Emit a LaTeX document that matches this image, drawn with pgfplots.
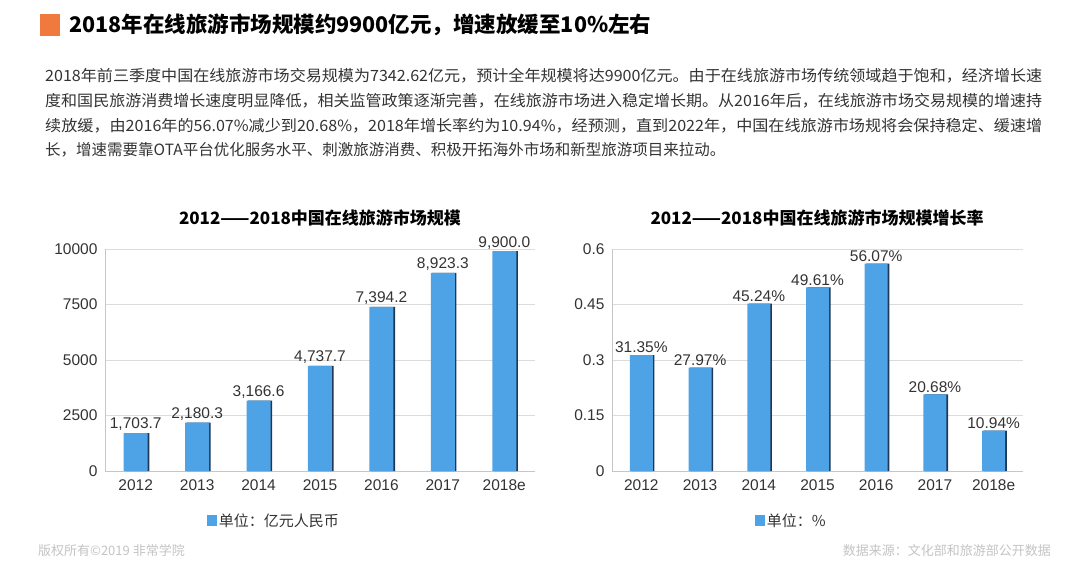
\documentclass[border=0pt]{standalone}
\usepackage{pgfplots}
\pgfplotsset{compat=1.18}
\usepackage{fontspec}
\setmainfont{Liberation Sans}
\newfontfamily\cjk{Noto Sans CJK SC}
\usepackage{graphicx}

\definecolor{barblue}{HTML}{4EA3E6}
\definecolor{barshade}{HTML}{1F3858}
\definecolor{headorange}{HTML}{F07A3E}
\definecolor{txt}{HTML}{333333}
\definecolor{foot}{HTML}{C4C4C4}

\newcommand{\para}{\cjk\fontsize{15.5}{18}\selectfont\color{txt}}

\pgfplotsset{
  twin/.style={
    scale only axis, height=222pt,
    xmin=-0.5, xmax=6.5, ymin=0,
    axis lines*=left, axis line style={-, draw=gray!45},
    ymajorgrids, grid style={draw=gray!28},
    xtick={0,...,6}, xticklabels={2012,2013,2014,2015,2016,2017,2018e},
    scaled y ticks=false,
    /pgf/number format/assume math mode=true,
    major tick length=0pt,
    tick label style={font=\fontsize{15.5}{18}\selectfont, text=txt},
    xticklabel style={yshift=-5pt},
    yticklabel style={xshift=-4pt},
    ybar, clip=false,
    every node near coord/.append style={font=\fontsize{15.5}{18}\selectfont, text=txt, inner sep=2pt},
    legend style={draw=none, fill=none, font=\cjk\fontsize{15}{18}\selectfont, text=txt,
      anchor=center, legend columns=1},
    legend image code/.code={\fill[barblue] (0pt,-5pt) rectangle (10pt,6pt);},
  },
}

\begin{document}
\begin{tikzpicture}[x=1pt,y=1pt]
\fill[white] (0,0) rectangle (1080,-572);

% heading
\fill[headorange] (40,-14) rectangle (60,-36);
\node[anchor=west, inner sep=0pt] at (69,-25)
  {\cjk\bfseries\fontsize{21.5}{26}\selectfont\color{black}2018年在线旅游市场规模约9900亿元，增速放缓至10\%左右};

% paragraph
\node[anchor=west, inner sep=0pt] at (45,-76) {\para\resizebox{997pt}{\height}{2018年前三季度中国在线旅游市场交易规模为7342.62亿元，预计全年规模将达9900亿元。由于在线旅游市场传统领域趋于饱和，经济增长速}};
\node[anchor=west, inner sep=0pt] at (45,-101) {\para\resizebox{997pt}{\height}{度和国民旅游消费增长速度明显降低，相关监管政策逐渐完善，在线旅游市场进入稳定增长期。从2016年后，在线旅游市场交易规模的增速持}};
\node[anchor=west, inner sep=0pt] at (45,-126) {\para\resizebox{997pt}{\height}{续放缓，由2016年的56.07\%减少到20.68\%，2018年增长率约为10.94\%，经预测，直到2022年，中国在线旅游市场规将会保持稳定、缓速增}};
\node[anchor=west, inner sep=0pt] at (45,-150) {\para 长，增速需要靠OTA平台优化服务水平、刺激旅游消费、积极开拓海外市场和新型旅游项目来拉动。};

% chart titles
\node at (320,-218) {\cjk\bfseries\fontsize{17}{20}\selectfont\color{black}2012——2018中国在线旅游市场规模};
\node at (817,-218) {\cjk\bfseries\fontsize{17}{20}\selectfont\color{black}2012——2018中国在线旅游市场规模增长率};

% left chart: market size
\begin{axis}[twin, at={(105pt,-471pt)}, anchor=south west,
  width=430pt, ymax=10000, bar width=24pt,
  ytick={0,2500,5000,7500,10000}, yticklabels={0,2500,5000,7500,10000},
  legend style={at={(0.393,-0.225)}},
]
\addplot[fill=barshade, draw=none, bar shift=1.6pt, forget plot] coordinates
  {(0,1703.7) (1,2180.3) (2,3166.6) (3,4737.7) (4,7394.2) (5,8923.3) (6,9900.0)};
\addplot[fill=barblue, draw=none, bar shift=0pt,
  nodes near coords={\pgfmathprintnumber[fixed, fixed zerofill, precision=1, 1000 sep={,}]{\pgfplotspointmeta}}]
  coordinates
  {(0,1703.7) (1,2180.3) (2,3166.6) (3,4737.7) (4,7394.2) (5,8923.3) (6,9900.0)};
\addlegendentry{单位：亿元人民币}
\end{axis}

% right chart: growth rate
\begin{axis}[twin, at={(612pt,-471pt)}, anchor=south west,
  width=411pt, ymax=0.6, bar width=23pt,
  ytick={0,0.15,0.3,0.45,0.6}, yticklabels={0,0.15,0.3,0.45,0.6},
  legend style={at={(0.436,-0.225)}},
]
\addplot[fill=barshade, draw=none, bar shift=1.6pt, forget plot] coordinates
  {(0,0.3135) (1,0.2797) (2,0.4524) (3,0.4961) (4,0.5607) (5,0.2068) (6,0.1094)};
\addplot[fill=barblue, draw=none, bar shift=0pt, point meta={y*100},
  nodes near coords={\pgfmathprintnumber[fixed, fixed zerofill, precision=2]{\pgfplotspointmeta}\%}]
  coordinates
  {(0,0.3135) (1,0.2797) (2,0.4524) (3,0.4961) (4,0.5607) (5,0.2068) (6,0.1094)};
\addlegendentry{单位：\%}
\end{axis}

% footer
\node[anchor=west, inner sep=0pt] at (38,-551) {\cjk\fontsize{13}{15}\selectfont\color{foot}版权所有©2019 非常学院};
\node[anchor=east, inner sep=0pt] at (1051,-551) {\cjk\fontsize{13}{15}\selectfont\color{foot}数据来源：文化部和旅游部公开数据};
\end{tikzpicture}
\end{document}
